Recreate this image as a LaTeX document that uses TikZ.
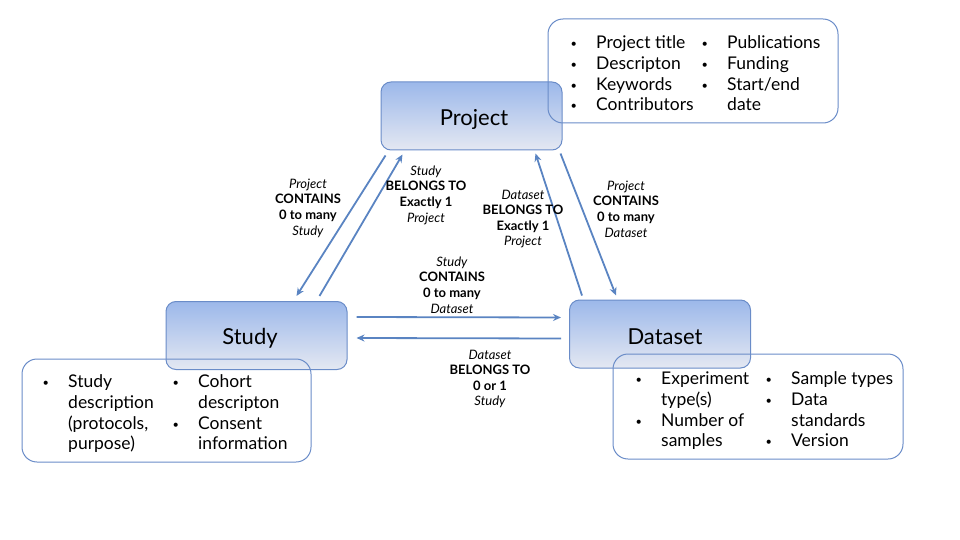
\documentclass[tikz,border=0pt]{standalone}
\usepackage{fontspec}
\setmainfont{Lato}
\usetikzlibrary{calc,arrows.meta}
\definecolor{edgeblue}{HTML}{6A8CC8}
\definecolor{arrblue}{HTML}{5A84C2}
\definecolor{topblue}{HTML}{9CB8EA}
\definecolor{botblue}{HTML}{E4E8F2}
\tikzset{
  mainbox/.style={draw=edgeblue, line width=1pt, rounded corners=10pt, top color=topblue, bottom color=botblue, minimum width=181pt, minimum height=68pt, inner sep=0pt, font=\fontsize{22}{26}\selectfont},
  infobox/.style={draw=edgeblue, line width=1pt, rounded corners=15pt, minimum width=#1, inner sep=0pt},
  infotext/.style={anchor=north west, inner sep=0pt, font=\fontsize{17.5}{20.7}\selectfont},
  rellabel/.style={align=center, inner sep=0pt, font=\fontsize{13}{15.6}\selectfont},
  arr/.style={draw=arrblue, line width=1.8pt, -{Stealth[length=8pt,width=7pt]}}
}
\newcommand{\bitem}[1]{\makebox[26pt][l]{\hspace*{0.5pt}\raisebox{1pt}{\fontsize{11}{11}\selectfont\textbullet}}#1}
\newcommand{\citem}[1]{\hspace*{26pt}#1}
\newcommand{\shifted}[2]{\makebox[0pt]{\hspace*{#1}\raisebox{-3pt}[\height][\depth]{#2}}}
\begin{document}
\begin{tikzpicture}[x=1pt,y=-1pt]
\useasboundingbox (0,0) rectangle (960,540);
% main boxes
\node[mainbox] (project) at (471.5,116) {\shifted{5pt}{Project}};
\node[mainbox] (study) at (256.5,335.5) {\shifted{-13pt}{Study}};
\node[mainbox] (dataset) at (660,334) {\shifted{10pt}{Dataset}};
% arrows
\draw[arr] ($(project.south west)+(5,5)$) -- ($(study.north west)+(131,-5)$);
\draw[arr] ($(study.north west)+(154,-5)$) -- ($(project.south west)+(22,4)$);
\draw[arr] ($(dataset.north west)+(13,-4)$) -- ($(project.south east)+(-27,3)$);
\draw[arr] ($(project.south east)+(-2,3)$) -- ($(dataset.north west)+(47,-4)$);
\draw[arr] ($(study.north east)+(9,16)$) -- ($(dataset.north west)+(-8,18)$);
\draw[arr] ($(dataset.north west)+(-8,39)$) -- ($(study.north east)+(9,37)$);
% relation labels
\node[rellabel] (l1) at (308,208) {\textit{Project}\\\textbf{CONTAINS}\\\textbf{0 to many}\\\textit{Study}};
\node[rellabel] (l2) at (426,195) {\textit{Study}\\\textbf{BELONGS TO}\\\textbf{Exactly 1}\\\textit{Project}};
\node[rellabel] (l3) at (523,219) {\textit{Dataset}\\\textbf{BELONGS TO}\\\textbf{Exactly 1}\\\textit{Project}};
\node[rellabel] (l4) at (626,209) {\textit{Project}\\\textbf{CONTAINS}\\\textbf{0 to many}\\\textit{Dataset}};
\node[rellabel] (l5) at (452,285) {\textit{Study}\\\textbf{CONTAINS}\\\textbf{0 to many}\\\textit{Dataset}};
\node[rellabel] (l6) at (490,379) {\textit{Dataset}\\\textbf{BELONGS TO}\\\textbf{0 or 1}\\\textit{Study}};
% info boxes
\node[infobox=290pt, minimum height=104pt] (pinfo) at (693,71) {};
\node[infobox=289pt, minimum height=103pt] (sinfo) at (166.5,410.5) {};
\node[infobox=290pt, minimum height=105pt] (dinfo) at (758,406.5) {};
% info texts
\node[infotext] (p1) at (570,34) {\begin{tabular}{@{}l@{}}\bitem{Project title}\\\bitem{Descripton}\\\bitem{Keywords}\\\bitem{Contributors}\end{tabular}};
\node[infotext] (p2) at (701,34) {\begin{tabular}{@{}l@{}}\bitem{Publications}\\\bitem{Funding}\\\bitem{Start/end}\\\citem{date}\end{tabular}};
\node[infotext] (s1) at (42,373) {\begin{tabular}{@{}l@{}}\bitem{Study}\\\citem{description}\\\citem{(protocols,}\\\citem{purpose)}\end{tabular}};
\node[infotext] (s2) at (172,373) {\begin{tabular}{@{}l@{}}\bitem{Cohort}\\\citem{descripton}\\\bitem{Consent}\\\citem{information}\end{tabular}};
\node[infotext] (d1) at (635,370) {\begin{tabular}{@{}l@{}}\bitem{Experiment}\\\citem{type(s)}\\\bitem{Number of}\\\citem{samples}\end{tabular}};
\node[infotext] (d2) at (765,370) {\begin{tabular}{@{}l@{}}\bitem{Sample types}\\\bitem{Data}\\\citem{standards}\\\bitem{Version}\end{tabular}};
\end{tikzpicture}
\end{document}
